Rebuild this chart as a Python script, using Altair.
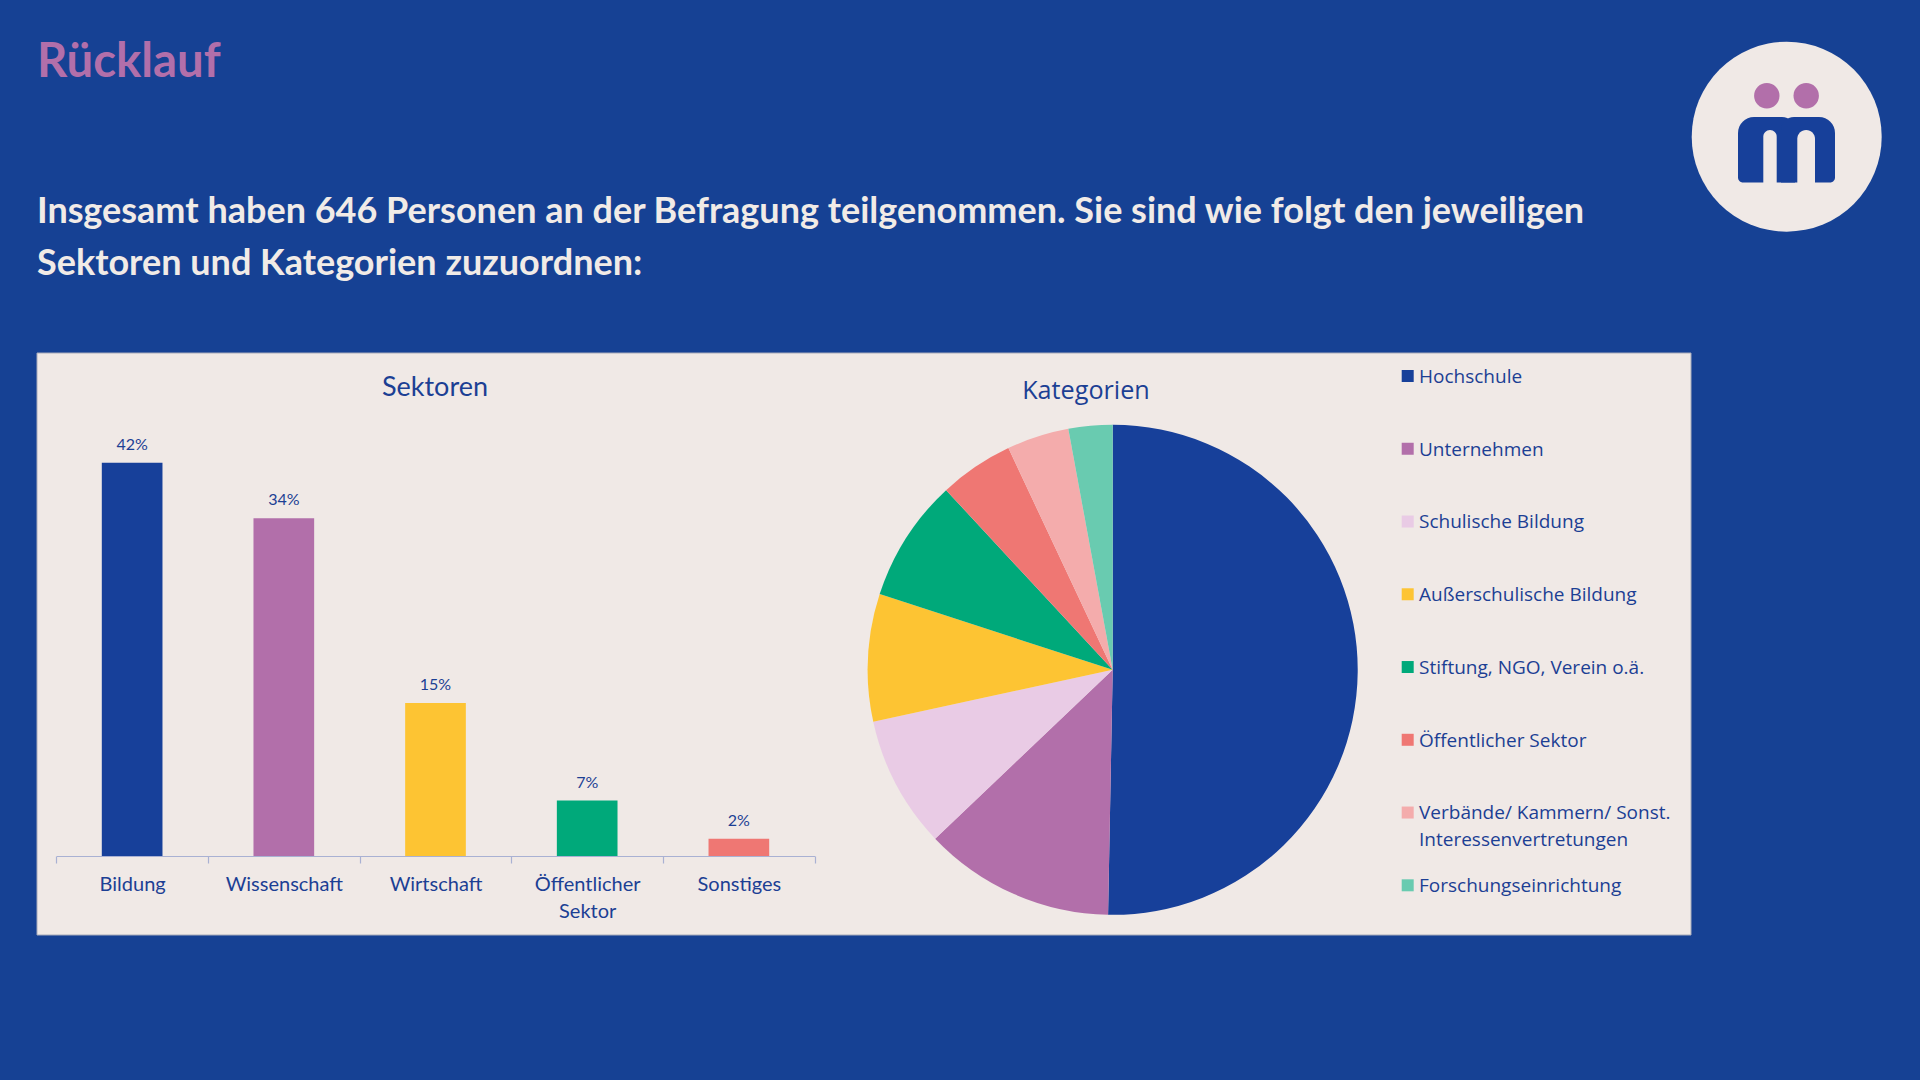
import altair as alt
import pandas as pd

# ---------------- data ----------------
sectors = ["Bildung", "Wissenschaft", "Wirtschaft", "Öffentlicher Sektor", "Sonstiges"]
sector_share = [41.1, 35.3, 16.0, 5.8, 1.8]
sector_labels = ["42%", "34%", "15%", "7%", "2%"]

categories = [
    "Hochschule",
    "Unternehmen",
    "Schulische Bildung",
    "Außerschulische Bildung",
    "Stiftung, NGO, Verein o.ä.",
    "Öffentlicher Sektor",
    "Verbände/ Kammern/ Sonst. Interessenvertretungen",
    "Forschungseinrichtung",
]
category_share = [50.3, 12.6, 8.7, 8.4, 8.1, 4.9, 4.1, 2.9]

title_text = "Rücklauf"
subtitle_lines = [
    "Insgesamt haben 646 Personen an der Befragung teilgenommen. Sie sind wie folgt den jeweiligen",
    "Sektoren und Kategorien zuzuordnen:",
]

# ---------------- styles ----------------
BLUE = "#164194"
PANEL = "#F0E9E6"
CREAM = "#F1EBE7"
PURPLE = "#B26FAA"
TEXT_BLUE = "#1C3F94"
AXIS_GREY = "#A9B1D3"
SECTOR_COLORS = ["#17409A", "#B26FAA", "#FDC433", "#00A97A", "#EF7773"]
CAT_COLORS = ["#17409A", "#B26FAA", "#E9CBE5", "#FDC433", "#00A97A", "#EF7773", "#F4ACAC", "#69CBB0"]

dummy = pd.DataFrame({"k": [0]})


def rect(x, x2, y, y2, color, **kw):
    return alt.Chart(dummy).mark_rect(color=color, **kw).encode(
        x=alt.value(x), x2=alt.value(x2), y=alt.value(y), y2=alt.value(y2)
    )


def label(text, x, y, **kw):
    return alt.Chart(dummy).mark_text(text=text, **kw).encode(x=alt.value(x), y=alt.value(y))


# ---------------- frame / logo ----------------
panel = rect(37, 1691, 353, 935, PANEL, stroke="#A7ABBA", strokeWidth=1)

logo_circle = alt.Chart(dummy).mark_circle(color=PANEL, opacity=1, size=(2 * 95) ** 2).encode(
    x=alt.value(1786.7), y=alt.value(136.7)
)
dot1 = alt.Chart(dummy).mark_circle(color=PURPLE, opacity=1, size=(2 * 12.7) ** 2).encode(
    x=alt.value(1766.8), y=alt.value(95.8))
dot2 = alt.Chart(dummy).mark_circle(color=PURPLE, opacity=1, size=(2 * 12.7) ** 2).encode(
    x=alt.value(1806.2), y=alt.value(95.8))
hump1 = rect(1738, 1795, 117, 182.5, "#17409A", cornerRadiusTopLeft=16, cornerRadiusTopRight=13,
             cornerRadiusBottomLeft=5)
hump2 = rect(1781, 1835, 117, 182.5, "#17409A", cornerRadiusTopLeft=13, cornerRadiusTopRight=16,
             cornerRadiusBottomRight=5)
gap1 = rect(1763.3, 1776.7, 130, 183, PANEL, cornerRadiusTopLeft=6.7, cornerRadiusTopRight=6.7)
gap2 = rect(1797.3, 1815, 130, 183, PANEL, cornerRadiusTopLeft=8.8, cornerRadiusTopRight=8.8)

# ---------------- headings ----------------
title = label(title_text, 37, 77, font="Lato", fontWeight="bold", fontSize=47.3, color=PURPLE,
              align="left", baseline="alphabetic")
subtitle = label(subtitle_lines, 37, 222.5, font="Lato", fontWeight="bold", fontSize=36, color=CREAM,
                 align="left", baseline="alphabetic", lineHeight=52.3)
sek_title = label("Sektoren", 435, 395.5, font="Lato", fontSize=27, color=TEXT_BLUE,
                  align="center", baseline="alphabetic")
kat_title = label("Kategorien", 1086, 398.5, font="Open Sans", fontSize=25.2, color=TEXT_BLUE,
                  align="center", baseline="alphabetic")

# ---------------- bar chart ----------------
sec_df = pd.DataFrame({"sector": sectors, "share": sector_share, "label": sector_labels})
x_scale = alt.Scale(domain=sectors, range=[56.3, 814.7], paddingInner=0, paddingOuter=0)
y_scale = alt.Scale(domain=[0, 45], range=[856, 425.4])

bars = alt.Chart(sec_df).mark_bar(width=alt.RelativeBandSize(0.4)).encode(
    x=alt.X("sector:N", sort=sectors, scale=x_scale,
            axis=alt.Axis(orient="bottom", offset=-224, title=None, labelAngle=0,
                          labelFont="Lato", labelFontSize=20, labelColor=TEXT_BLUE,
                          labelExpr="split(datum.label, ' ')", labelLineHeight=27,
                          labelPadding=11, labelBaseline="top",
                          domainColor=AXIS_GREY, domainWidth=1.2,
                          tickColor=AXIS_GREY, tickSize=7, tickWidth=1.2, tickBand="extent",
                          grid=False, zindex=1)),
    y=alt.Y("share:Q", scale=y_scale, axis=None),
    color=alt.Color("sector:N", scale=alt.Scale(domain=sectors, range=SECTOR_COLORS), legend=None),
)
bar_labels = alt.Chart(sec_df).mark_text(font="Lato", fontSize=16, color=TEXT_BLUE,
                                         baseline="middle", dy=-18).encode(
    x=alt.X("sector:N", sort=sectors, scale=x_scale, axis=None),
    y=alt.Y("share:Q", scale=y_scale, axis=None),
    text="label:N",
)

# ---------------- pie chart ----------------
cat_df = pd.DataFrame({"cat": categories, "share": category_share, "idx": list(range(len(categories)))})
cat_color = alt.Color("cat:N", scale=alt.Scale(domain=categories, range=CAT_COLORS), legend=None)

pie = alt.Chart(cat_df).mark_arc(radius=245).encode(
    theta=alt.Theta("share:Q", stack=True),
    order=alt.Order("idx:Q"),
    color=cat_color,
    x=alt.value(1112.7),
    y=alt.value(669.8),
)

leg_y = alt.Y("cat:N", type="nominal", sort=categories,
              scale=alt.Scale(type="point", domain=categories, range=[376, 885.3], padding=0), axis=None)
leg_sq = alt.Chart(cat_df).mark_square(size=144, opacity=1).encode(
    x=alt.value(1407.7), y=leg_y, color=cat_color
)
leg_txt = alt.Chart(cat_df).transform_calculate(
    lbl="replace(datum.cat, 'Sonst. ', 'Sonst.\\n')"
).mark_text(align="left", baseline="alphabetic", dy=6.8, lineBreak="\n", lineHeight=27,
            font="Open Sans", fontSize=19, color=TEXT_BLUE).encode(
    x=alt.value(1419), y=leg_y, text="lbl:N"
)

chart = alt.layer(
    panel, logo_circle, hump1, hump2, gap1, gap2, dot1, dot2,
    title, subtitle, sek_title, kat_title,
    bars, bar_labels, pie, leg_sq, leg_txt,
).resolve_scale(
    x="independent", y="independent", color="independent"
).properties(
    width=1920, height=1080, padding=0,
    autosize=alt.AutoSizeParams(type="none"),
).configure(background=BLUE).configure_view(stroke=None)

chart.save("out.html", embed_options={"renderer": "svg", "actions": False})
